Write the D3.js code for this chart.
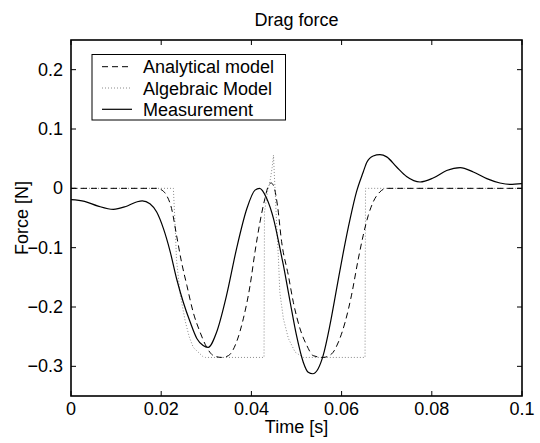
<!DOCTYPE html>
<html><head><meta charset="utf-8">
<script src="https://cdn.jsdelivr.net/npm/d3@7"></script>
<style>body{margin:0;background:#fff}svg{display:block}text{font-family:"Liberation Sans",Arial,Helvetica,sans-serif;fill:#000}</style>
</head><body><svg id="c" width="540" height="443"></svg>
<script>
const xTicks = [0, 0.02, 0.04, 0.06, 0.08, 0.1];
const xTickLabels = ["0", "0.02", "0.04", "0.06", "0.08", "0.1"];
const yTicks = [-0.3, -0.2, -0.1, 0, 0.1, 0.2];
const yTickLabels = ["\u22120.3", "\u22120.2", "\u22120.1", "0", "0.1", "0.2"];
const seriesNames = ["Analytical model", "Algebraic Model", "Measurement"];

const analytical = [[0,0],[0.019,0],[0.0205,-0.005],[0.0212,-0.012],[0.0223,-0.034],[0.0234,-0.079],[0.0245,-0.124],[0.0257,-0.164],[0.0271,-0.209],[0.0286,-0.242],[0.0301,-0.268],[0.0316,-0.282],[0.0334,-0.285],[0.0349,-0.282],[0.0367,-0.259],[0.0382,-0.22],[0.0397,-0.164],[0.0408,-0.107],[0.0419,-0.057],[0.043,-0.017],[0.0437,0.003],[0.0444,0.009],[0.0451,0.0],[0.0458,-0.03],[0.0467,-0.09],[0.0482,-0.147],[0.0493,-0.192],[0.0508,-0.237],[0.0523,-0.265],[0.0537,-0.282],[0.0559,-0.285],[0.0578,-0.279],[0.0593,-0.259],[0.0608,-0.225],[0.0622,-0.18],[0.0637,-0.119],[0.0648,-0.079],[0.0659,-0.046],[0.067,-0.023],[0.0685,-0.006],[0.07,0],[0.1,0]];

const algebraic = [[0,0],[0.0227,0],[0.0231,-0.065],[0.0234,-0.121],[0.0242,-0.178],[0.0253,-0.223],[0.0262,-0.25],[0.0271,-0.268],[0.0293,-0.284],[0.0298,-0.285],[0.0428,-0.285],[0.0429,-0.04],[0.0436,-0.005],[0.0442,0.015],[0.0446,0.035],[0.0449,0.056],[0.0451,0.02],[0.0453,-0.01],[0.0456,-0.062],[0.046,-0.119],[0.0463,-0.175],[0.0471,-0.22],[0.0482,-0.253],[0.0497,-0.276],[0.0515,-0.285],[0.0652,-0.285],[0.0653,0],[0.1,0]];

const measurement = [[0,-0.019],[0.003,-0.022],[0.006,-0.03],[0.0094,-0.0354],[0.012,-0.031],[0.0145,-0.023],[0.0158,-0.021],[0.0175,-0.026],[0.019,-0.04],[0.0205,-0.068],[0.022,-0.107],[0.0234,-0.152],[0.0249,-0.192],[0.0264,-0.225],[0.0279,-0.253],[0.0293,-0.265],[0.0304,-0.268],[0.0323,-0.242],[0.0345,-0.18],[0.0367,-0.102],[0.039,-0.034],[0.0408,-0.003],[0.0418,0.0],[0.0434,-0.017],[0.0449,-0.051],[0.0463,-0.1],[0.0471,-0.13],[0.0486,-0.192],[0.05,-0.248],[0.0515,-0.293],[0.0526,-0.31],[0.0536,-0.3125],[0.0548,-0.304],[0.0559,-0.282],[0.0574,-0.231],[0.0589,-0.169],[0.0604,-0.107],[0.0619,-0.051],[0.0633,-0.006],[0.0648,0.0275],[0.0656,0.044],[0.067,0.0545],[0.0685,0.0567],[0.07,0.053],[0.0722,0.036],[0.0744,0.02],[0.0774,0.0107],[0.0803,0.0174],[0.0833,0.030],[0.0863,0.0349],[0.0892,0.0275],[0.0922,0.0163],[0.0951,0.009],[0.0973,0.0067],[0.1,0.008]];

const svg = d3.select("#c");
const L = 71, R = 522, T = 40, B = 396;
const x = d3.scaleLinear().domain([0, 0.1]).range([L, R]);
const y = d3.scaleLinear().domain([-0.35, 0.25]).range([B, T]);
const FS = "18px";

// ticks (inward, all four sides)
const tk = 5;
const g = svg.append("g");
xTicks.forEach(v => {
  g.append("line").attr("x1", x(v)).attr("x2", x(v)).attr("y1", B).attr("y2", B - tk).attr("stroke", "#000");
  g.append("line").attr("x1", x(v)).attr("x2", x(v)).attr("y1", T).attr("y2", T + tk).attr("stroke", "#000");
});
yTicks.forEach(v => {
  g.append("line").attr("x1", L).attr("x2", L + tk).attr("y1", y(v)).attr("y2", y(v)).attr("stroke", "#000");
  g.append("line").attr("x1", R).attr("x2", R - tk).attr("y1", y(v)).attr("y2", y(v)).attr("stroke", "#000");
});
xTicks.forEach((v, i) => {
  g.append("text").attr("x", x(v)).attr("y", 415).attr("text-anchor", "middle").style("font-size", FS).text(xTickLabels[i]);
});
yTicks.forEach((v, i) => {
  g.append("text").attr("x", 63).attr("y", y(v) + 6).attr("text-anchor", "end").style("font-size", FS).text(yTickLabels[i]);
});

const clip = svg.append("clipPath").attr("id", "clp").append("rect").attr("x", L).attr("y", T).attr("width", R - L).attr("height", B - T);
const plot = svg.append("g").attr("clip-path", "url(#clp)");
const lineSmooth = d3.line().x(d => x(d[0])).y(d => y(d[1])).curve(d3.curveMonotoneX);
const lineLin = d3.line().x(d => x(d[0])).y(d => y(d[1]));

plot.append("path").attr("d", lineLin(algebraic)).attr("fill", "none").attr("stroke", "#8a8a8a").attr("stroke-width", 1).attr("stroke-dasharray", "1,2");
plot.append("path").attr("d", lineSmooth(analytical)).attr("fill", "none").attr("stroke", "#000").attr("stroke-width", 1).attr("stroke-dasharray", "6,4");
plot.append("path").attr("d", lineSmooth(measurement)).attr("fill", "none").attr("stroke", "#000").attr("stroke-width", 1.2);

// axes box
svg.append("rect").attr("x", L).attr("y", T).attr("width", R - L).attr("height", B - T).attr("fill", "none").attr("stroke", "#000").attr("stroke-width", 1.6);

// title and labels
svg.append("text").attr("x", (L + R) / 2).attr("y", 25.5).attr("text-anchor", "middle").style("font-size", FS).text("Drag force");
svg.append("text").attr("x", (L + R) / 2).attr("y", 433).attr("text-anchor", "middle").style("font-size", FS).text("Time [s]");
svg.append("text").attr("transform", `translate(28,${(T + B) / 2}) rotate(-90)`).attr("text-anchor", "middle").style("font-size", FS).text("Force [N]");

// legend
const lg = svg.append("g");
lg.append("rect").attr("x", 92).attr("y", 54.5).attr("width", 193.5).attr("height", 65.5).attr("fill", "#fff").attr("stroke", "#000").attr("stroke-width", 1);
const styles = [
  {stroke: "#000", dash: "6,4", w: 1},
  {stroke: "#8a8a8a", dash: "1,2", w: 1},
  {stroke: "#000", dash: null, w: 1.2}
];
seriesNames.forEach((n, i) => {
  const yy = 66.7 + i * 21.3;
  lg.append("line").attr("x1", 102).attr("x2", 132).attr("y1", yy).attr("y2", yy)
    .attr("stroke", styles[i].stroke).attr("stroke-width", styles[i].w).attr("stroke-dasharray", styles[i].dash);
  lg.append("text").attr("x", 143).attr("y", yy + 6.5).style("font-size", FS).text(n);
});
</script>
</body></html>
